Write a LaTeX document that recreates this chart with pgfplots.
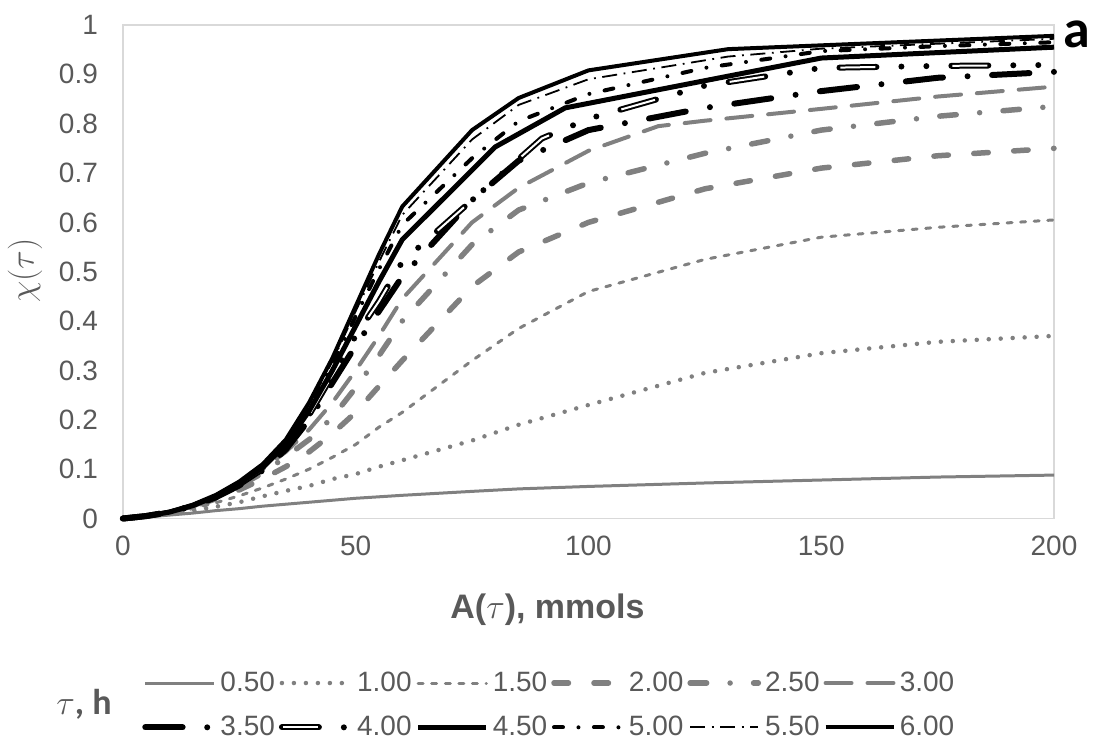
\documentclass[border=0pt]{standalone}
\usepackage{pgfplots}
\pgfplotsset{compat=1.18}
\usepackage{fontspec}
\setmainfont{Liberation Sans}
\newfontfamily\calibri{Carlito}
\definecolor{txtgray}{RGB}{89,89,89}
\definecolor{framegray}{RGB}{217,217,217}
\definecolor{linegray}{RGB}{128,128,128}

\begin{document}
\begin{tikzpicture}
\begin{axis}[
  name=ax,
  scale only axis, width=466pt, height=247pt,
  xmin=0, xmax=200, ymin=0, ymax=1,
  xtick={0,50,100,150,200},
  ytick={0,0.1,0.2,0.3,0.4,0.5,0.6,0.7,0.8,0.9,1},
  axis line style={framegray, line width=0.75pt},
  major tick length=0pt,
  tick label style={font=\fontsize{14}{16}\selectfont, text=txtgray},
  /pgf/number format/assume math mode=true,
  yticklabel style={xshift=-9pt},
  xticklabel style={yshift=-5pt},
  clip=false,
  xlabel={A($\tau$), mmols},
  xlabel style={at={(axis description cs:0.456,-0.1842)}, anchor=center,
    font=\fontsize{17}{20}\selectfont\bfseries, text=txtgray},
  ylabel={$\chi(\tau)$},
  ylabel style={at={(axis description cs:-0.1052,0.502)}, anchor=center,
    font=\fontsize{16}{18}\selectfont, text=txtgray},
  legend columns=6,
  legend image post style={xscale=2},
  legend style={at={(axis description cs:0.0204,-0.3016)}, anchor=north west,
    draw=none, fill=none, inner sep=0pt, row sep=6.9pt,
    font=\fontsize{14}{16}\selectfont, text=txtgray},
]

% 0.50
\addplot[linegray, line width=1.5pt] coordinates {
 (0,0)(5,0.003)(10,0.007)(15,0.011)(20,0.016)(25,0.02)(30,0.025)(35,0.029)(40,0.033)(45,0.037)
 (50,0.041)(55,0.044)(60,0.047)(75,0.055)(85,0.06)(100,0.065)(125,0.072)(150,0.078)(175,0.084)(200,0.088)};
% 1.00
\addplot[linegray, line width=2.25pt, line cap=round, dash pattern=on 0pt off 6pt] coordinates {
 (0,0)(5,0.004)(10,0.009)(15,0.016)(20,0.024)(25,0.033)(30,0.045)(35,0.056)(40,0.066)(45,0.08)
 (50,0.09)(55,0.105)(60,0.118)(75,0.158)(85,0.19)(100,0.23)(125,0.295)(150,0.335)(175,0.358)(200,0.37)};
% 1.50
\addplot[linegray, line width=1.5pt, line cap=round, dash pattern=on 2.5pt off 4.3pt] coordinates {
 (0,0)(5,0.004)(10,0.01)(15,0.02)(20,0.032)(25,0.046)(30,0.062)(35,0.08)(40,0.1)(45,0.124)
 (50,0.15)(55,0.185)(60,0.215)(75,0.32)(85,0.385)(100,0.46)(125,0.525)(150,0.57)(175,0.59)(200,0.605)};
% 2.00
\addplot[linegray, line width=2.75pt, line cap=round, dash pattern=on 7.25pt off 12.75pt] coordinates {
 (0,0)(5,0.004)(10,0.012)(15,0.024)(20,0.04)(25,0.058)(30,0.08)(35,0.105)(40,0.135)(45,0.172)
 (50,0.215)(55,0.268)(60,0.32)(75,0.47)(85,0.54)(100,0.6)(125,0.668)(150,0.71)(175,0.735)(200,0.75)};
% 2.50
\addplot[linegray, line width=2.75pt, line cap=round, dash pattern=on 8.25pt off 11.75pt on 0pt off 11.75pt] coordinates {
 (0,0)(5,0.004)(10,0.012)(15,0.026)(20,0.044)(25,0.066)(30,0.092)(35,0.125)(40,0.16)(45,0.205)
 (50,0.265)(55,0.33)(60,0.4)(75,0.555)(85,0.625)(100,0.68)(125,0.74)(150,0.787)(175,0.815)(200,0.835)};
% 3.00
\addplot[linegray, line width=2pt, line cap=round, dash pattern=on 13pt off 8pt] coordinates {
 (0,0)(5,0.004)(10,0.013)(15,0.027)(20,0.046)(25,0.07)(30,0.1)(35,0.135)(40,0.18)(45,0.235)
 (50,0.3)(55,0.37)(60,0.445)(75,0.6)(85,0.67)(100,0.745)(115,0.795)(125,0.806)(150,0.83)(175,0.855)(200,0.875)};
% 3.50
\addplot[black, line width=3pt, line cap=round, dash pattern=on 18.7pt off 12.3pt on 0pt off 12.3pt] coordinates {
 (0,0)(5,0.005)(10,0.013)(15,0.025)(20,0.043)(25,0.067)(30,0.097)(35,0.14)(40,0.2)(45,0.275)
 (50,0.35)(55,0.42)(60,0.49)(75,0.645)(85,0.725)(100,0.787)(125,0.832)(150,0.866)(175,0.893)(200,0.905)};
% 4.00 (double line: black with a white core)
\addplot[black, line width=3pt, line cap=round,
  dash pattern=on 18.5pt off 12.5pt on 0pt off 12.5pt on 0pt off 12.5pt,
  postaction={draw=white, line width=1pt, line cap=butt, dash pattern=on 17.5pt off 38.5pt, dash phase=-0.5pt}]
 coordinates {
 (0,0)(5,0.005)(10,0.013)(15,0.026)(20,0.044)(25,0.069)(30,0.1)(35,0.145)(40,0.21)(45,0.29)
 (50,0.37)(55,0.44)(60,0.52)(75,0.645)(90,0.77)(100,0.81)(125,0.877)(150,0.913)(175,0.917)(200,0.919)};
% 4.50
\addplot[black, line width=2.5pt] coordinates {
 (0,0)(5,0.005)(10,0.013)(15,0.026)(20,0.045)(25,0.071)(30,0.103)(35,0.15)(40,0.218)(45,0.3)
 (50,0.39)(55,0.48)(60,0.565)(80,0.753)(95,0.832)(150,0.933)(200,0.955)};
% 5.00
\addplot[black, line width=2pt, line cap=round, dash pattern=on 4.5pt off 7.75pt on 0pt off 7.75pt] coordinates {
 (0,0)(5,0.005)(10,0.013)(15,0.027)(20,0.046)(25,0.073)(30,0.106)(35,0.154)(40,0.225)(45,0.31)
 (50,0.41)(55,0.505)(60,0.595)(75,0.73)(85,0.805)(100,0.86)(125,0.913)(150,0.947)(175,0.957)(200,0.965)};
% 5.50
\addplot[black, line width=0.9pt, dash pattern=on 7.5pt off 3.3pt on 0.9pt off 3.3pt] coordinates {
 (0,0)(5,0.005)(10,0.014)(15,0.028)(20,0.047)(25,0.074)(30,0.108)(35,0.157)(40,0.23)(45,0.318)
 (50,0.42)(55,0.52)(60,0.615)(75,0.768)(85,0.838)(100,0.89)(130,0.936)(150,0.952)(200,0.972)};
% 6.00
\addplot[black, line width=2pt] coordinates {
 (0,0)(5,0.005)(10,0.014)(15,0.028)(20,0.048)(25,0.075)(30,0.11)(35,0.16)(40,0.235)(45,0.325)
 (50,0.43)(55,0.535)(60,0.632)(75,0.787)(85,0.852)(100,0.908)(130,0.951)(200,0.978)};

\legend{0.50,1.00,1.50,2.00,2.50,3.00,3.50,4.00,4.50,5.00,5.50,6.00}

\node[anchor=base west, font=\fontsize{18}{21}\selectfont\calibri\bfseries, text=txtgray, inner sep=0pt]
  at (axis description cs:-0.0719,-0.3968) {$\tau$, h};
\node[font=\fontsize{27}{30}\selectfont\calibri\bfseries, text=black] at (axis description cs:1.0247,0.9808) {a};
\end{axis}
\path ([shift={(-61.5pt,-117.5pt)}]ax.south west) rectangle ([shift={(21pt,12.5pt)}]ax.north east);
\end{tikzpicture}
\end{document}
